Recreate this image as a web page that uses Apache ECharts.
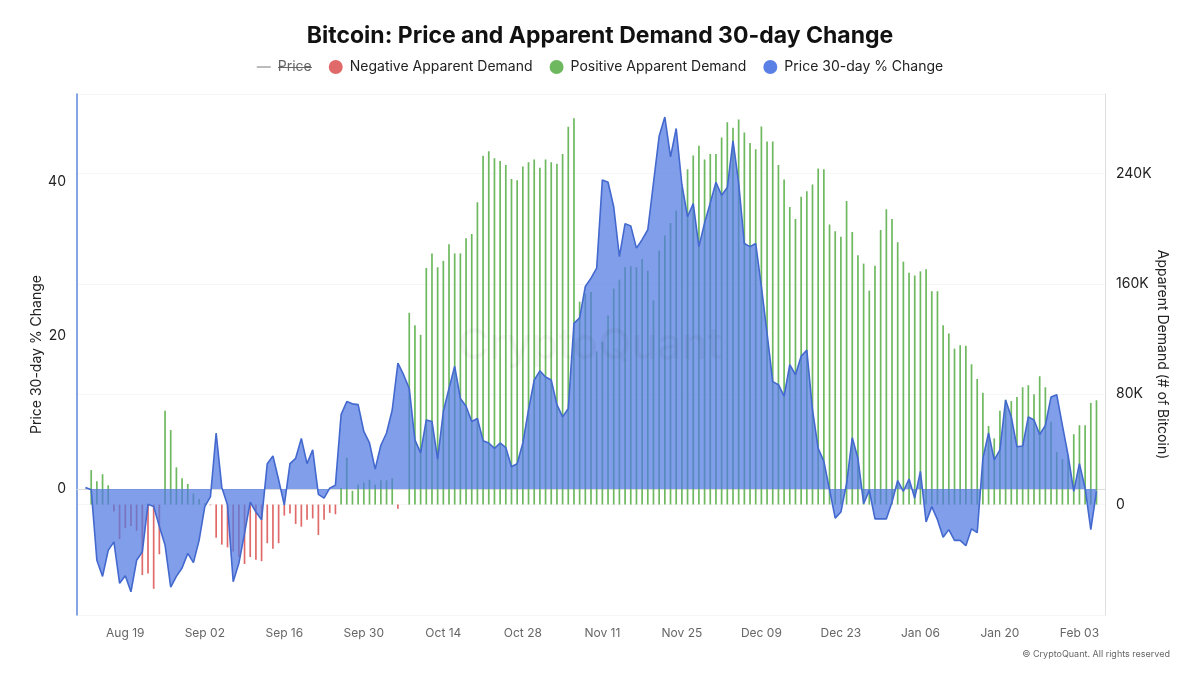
<!DOCTYPE html>
<html>
<head>
<meta charset="utf-8">
<title>Bitcoin: Price and Apparent Demand 30-day Change</title>
<script src="https://cdn.jsdelivr.net/npm/echarts@6/dist/echarts.min.js"></script>
<style>
html, body { margin: 0; padding: 0; background: #fff; }
#chart { width: 1200px; height: 675px; }
</style>
</head>
<body>
<div id="chart"></div>
<script>
// one value per day from Aug 12 to Feb 06
const priceChange = [
    0.2, -0.1, -9.3, -11.4, -8, -6.9, -12.3, -11.3, -13.4, -9.3,
    -8.2, -2, -2.3, -4.9, -7.3, -12.8, -11.4, -10.3, -8.4, -9.6,
    -6.7, -2.3, -1, 7.3, 0.2, -2.1, -12.1, -9.7, -5.8, -1.7,
    -3, -4, 3.3, 4.3, 1.2, -2.1, 3.3, 4, 6.6, 3.3,
    5.1, -0.7, -1.2, 0.1, 0.5, 9.7, 11.4, 11.1, 11, 7.5,
    6, 2.6, 5.7, 7.3, 10.3, 16.4, 14.9, 13.1, 6.4, 4.7,
    9, 8.8, 3.9, 10.1, 13.1, 16, 11.8, 10.8, 8.8, 9.2,
    6.3, 6, 5.3, 6, 5.4, 2.9, 3.3, 6, 10.3, 14.2,
    15.4, 14.6, 14.2, 11, 9.4, 10.5, 21.6, 22.3, 26.4, 27.5,
    28.8, 40.3, 40, 36.8, 30.3, 34.6, 34.3, 31.4, 32.5, 33.8,
    39.9, 46, 48.5, 43.3, 47, 39.7, 35.5, 37.2, 31.6, 34.7,
    37.3, 40, 38.3, 39.3, 45.4, 39.9, 32, 31.6, 32, 26.4,
    20.3, 14, 13.6, 12.1, 16.2, 14.9, 17.3, 18.1, 10.3, 5.3,
    3.6, -0.1, -3.8, -3, 0.7, 6.7, 4, -1.9, -0.2, -3.9,
    -3.9, -3.9, -1.7, 1.1, -0.3, 1.3, -1.2, 2.3, -4.3, -2.3,
    -4, -6.3, -5.3, -6.7, -6.7, -7.4, -5.2, -5.7, 4, 7.3,
    3.8, 5.1, 11.6, 9.4, 5.5, 5.6, 9.4, 9, 7.1, 8.3,
    12, 12.3, 8.3, 4.4, -0.3, 3.3, 0.1, -5.3, -0.3
];
// thousands of BTC
const demand = [
    0, 25, 17, 22, 14, -5, -25, -17, -15.5, -19,
    -51, -50, -61, -36, 68, 54, 27, 19, 15, 8,
    4, 1, -0.5, -24, -29, -31, -34, -38, -43, -38,
    -40, -41, -28, -32, -28, -8, -6.5, -14, -16, -11,
    -10, -22, -11, -6, -7, 12, 34, 10, 14.5, 16,
    18, 14.5, 17.6, 17.6, 19, -3, 0, 139, 130, 123,
    171.5, 182, 172, 176.6, 188.6, 182, 182, 193, 196, 219,
    252.7, 256, 251, 249, 246, 236, 235, 245, 248, 250,
    244, 250, 248, 247, 254, 273.7, 280, 147, 153, 154,
    111, 118, 137, 156.5, 163, 172, 172.7, 172, 178, 169.5,
    148, 184, 195, 204, 213, 230, 243, 253, 260, 250,
    254, 254, 266, 277, 273, 279, 269.6, 262, 257.5, 274,
    263, 263, 246, 235.5, 215.7, 207, 223, 227, 232, 243.5,
    243, 203, 198, 194, 220, 197.6, 180.7, 174.6, 155, 173,
    199, 214, 207, 190, 176, 168, 166, 169, 170.5, 154.6,
    154.6, 130, 124, 113, 115.5, 115, 101.7, 91, 81, 57,
    48, 68, 76, 75, 78, 85, 86.5, 80, 93, 85,
    60, 38, 33, 36, 51, 57.5, 57.5, 73.7, 75.6
];
const tickLabels = ['Aug 19', 'Sep 02', 'Sep 16', 'Sep 30', 'Oct 14', 'Oct 28', 'Nov 11',
    'Nov 25', 'Dec 09', 'Dec 23', 'Jan 06', 'Jan 20', 'Feb 03'];

const MONTHS = ['Jan', 'Feb', 'Mar', 'Apr', 'May', 'Jun', 'Jul', 'Aug', 'Sep', 'Oct', 'Nov', 'Dec'];
const FONT = 'Inter, "Noto Sans", sans-serif';

function dayName(i) {
    let d = new Date(Date.UTC(2024, 7, 12 + i));
    return MONTHS[d.getUTCMonth()] + ' ' + String(d.getUTCDate()).padStart(2, '0');
}

// one empty slot each side, the original leaves a small gap at both ends
let days = ['', ...priceChange.map((v, i) => dayName(i)), ' '];
let pad = arr => [null, ...arr, null];
let positive = pad(demand.map(v => v > 0 ? v : null));
let negative = pad(demand.map(v => v < 0 ? v : null));

let chart = echarts.init(document.getElementById('chart'));
let isTick = (idx, val) => tickLabels.includes(val);

let option = {
    animation: false,
    backgroundColor: '#fff',
    textStyle: { fontFamily: FONT },
    title: {
        text: 'Bitcoin: Price and Apparent Demand 30-day Change',
        left: 'center',
        top: 20,
        textStyle: { fontFamily: FONT, fontSize: 23, fontWeight: 700, color: '#111' }
    },
    legend: {
        left: 'center',
        top: 60,
        padding: 0,
        itemGap: 17,
        itemWidth: 14,
        itemHeight: 14,
        itemStyle: { borderWidth: 0 },
        inactiveColor: '#666',
        selected: { 'Price': false },
        textStyle: { fontFamily: FONT, fontSize: 14, color: '#222', padding: [0, 0, 0, 2] },
        data: [
            { name: 'Price', icon: 'path://M0 6H16V7H0Z' },
            { name: 'Negative Apparent Demand', icon: 'circle' },
            { name: 'Positive Apparent Demand', icon: 'circle' },
            { name: 'Price 30-day % Change', icon: 'circle' }
        ]
    },
    grid: { left: 77, right: 95, top: 94, bottom: 60 },
    xAxis: {
        type: 'category',
        data: days,
        boundaryGap: true,
        axisLine: { lineStyle: { color: '#dcdcdc' } },
        axisTick: { alignWithLabel: true, interval: isTick, length: 4, lineStyle: { color: '#e4e4e4' } },
        axisLabel: { interval: isTick, color: '#666', fontSize: 12, margin: 12, fontFamily: FONT },
        splitLine: { show: false }
    },
    yAxis: [
        {
            type: 'value',
            name: 'Price 30-day % Change',
            nameLocation: 'middle',
            nameGap: 33,
            nameMoveOverlap: false,
            nameRotate: 90,
            nameTextStyle: { color: '#222', fontSize: 14, fontFamily: FONT },
            min: -16.43,
            max: 51.5,
            axisLine: { show: true, lineStyle: { color: '#5b86d9', width: 1.5 } },
            axisTick: { show: false },
            axisLabel: { customValues: [0, 20, 40], color: '#222', fontSize: 14, margin: 11, fontFamily: FONT },
            splitLine: { show: false }
        },
        {
            type: 'value',
            name: 'Apparent Demand (# of Bitcoin)',
            nameLocation: 'middle',
            nameGap: 50,
            nameMoveOverlap: false,
            nameRotate: -90,
            nameTextStyle: { color: '#222', fontSize: 14, fontFamily: FONT },
            position: 'right',
            min: -80,
            max: 297.5,
            interval: 80,
            axisLine: { show: true, lineStyle: { color: '#dedede' } },
            axisTick: { show: false },
            axisLabel: {
                color: '#222',
                fontSize: 14,
                margin: 11,
                fontFamily: FONT,
                formatter: v => (v < 0 || v > 240) ? '' : (v == 0 ? '0' : v + 'K')
            },
            splitLine: { show: true, lineStyle: { color: '#f6f6f6' } }
        }
    ],
    series: [
        { name: 'Price', type: 'line', data: [], itemStyle: { color: '#666' } },
        {
            name: 'Negative Apparent Demand',
            type: 'bar',
            yAxisIndex: 1,
            data: negative,
            barWidth: 1.7,
            barGap: '-100%',
            itemStyle: { color: '#e06a6a' },
            z: 2
        },
        {
            name: 'Positive Apparent Demand',
            type: 'bar',
            yAxisIndex: 1,
            data: positive,
            barWidth: 1.7,
            barGap: '-100%',
            itemStyle: { color: '#6eb95f' },
            z: 2
        },
        {
            name: 'Price 30-day % Change',
            type: 'line',
            yAxisIndex: 0,
            data: pad(priceChange),
            showSymbol: false,
            symbol: 'none',
            itemStyle: { color: '#5a80e6' },
            lineStyle: { color: '#4369cf', width: 1.6 },
            areaStyle: { color: '#5079e2', opacity: 0.72, origin: 0 },
            z: 3
        }
    ],
    graphic: [
        {
            type: 'text',
            left: 458,
            top: 325,
            z: 5,
            silent: true,
            style: { text: 'CryptoQuant', fontFamily: FONT, fontSize: 43, fontWeight: 500, fill: 'rgba(0,0,0,0.035)' }
        },
        {
            type: 'text',
            right: 30,
            top: 650,
            style: { text: '© CryptoQuant. All rights reserved', fontFamily: FONT, fontSize: 9, fill: '#666' }
        },
        // the switched off legend item is struck through
        {
            type: 'line',
            shape: { x1: 278, y1: 67.5, x2: 312, y2: 67.5 },
            silent: true,
            z: 10,
            style: { stroke: '#666', lineWidth: 1 }
        }
    ]
};
chart.setOption(option);
</script>
</body>
</html>
